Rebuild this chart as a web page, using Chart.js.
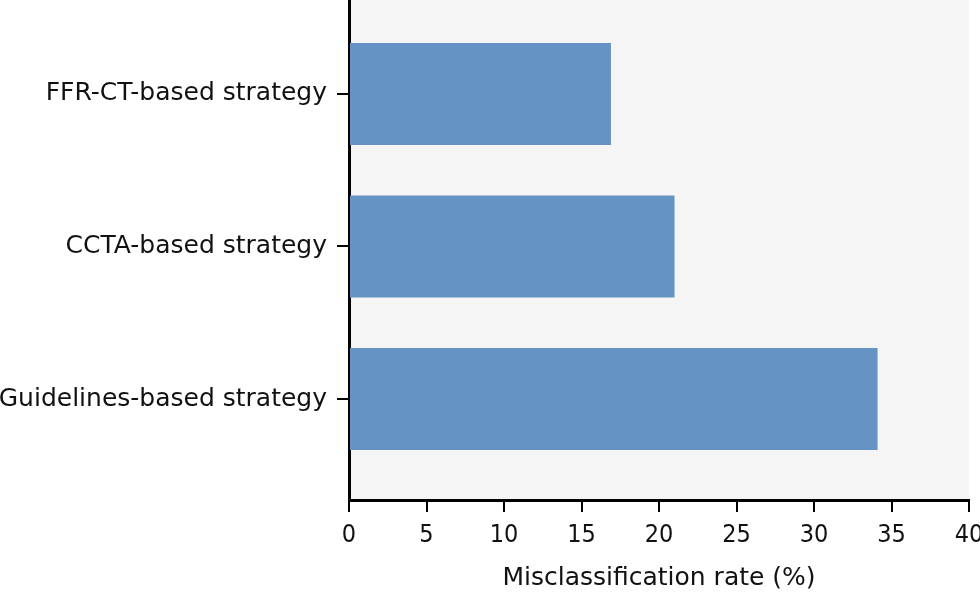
<!DOCTYPE html>
<html>
<head>
<meta charset="utf-8">
<script src="https://cdn.jsdelivr.net/npm/chart.js@4/dist/chart.umd.min.js"></script>
<style>
  html, body { margin: 0; padding: 0; background: #fff; }
  canvas { display: block; }
</style>
</head>
<body>
<canvas id="chart" width="980" height="595"></canvas>
<script>
// ── Data ──
const categories = ['FFR-CT-based strategy', 'CCTA-based strategy', 'Guidelines-based strategy'];
const misclassRate = [16.9, 21.0, 34.1];
const xTicks = [0, 5, 10, 15, 20, 25, 30, 35, 40];

// ── Plot area background ──
const plotBackground = {
  id: 'plotBackground',
  beforeDraw(chart) {
    const { ctx, chartArea: a } = chart;
    ctx.save();
    ctx.fillStyle = '#f5f5f5';
    ctx.fillRect(a.left, a.top, a.right - a.left, a.bottom - a.top);
    ctx.restore();
  }
};

Chart.defaults.font.family = "'DejaVu Sans', sans-serif";
Chart.defaults.color = '#111';

new Chart(document.getElementById('chart'), {
  type: 'bar',
  data: {
    datasets: [{
      data: misclassRate.map((v, i) => ({ x: v, y: i })),
      backgroundColor: '#6593c4',
      borderWidth: 0,
      barPercentage: 0.669,
      categoryPercentage: 1
    }]
  },
  options: {
    indexAxis: 'y',
    responsive: false,
    animation: false,
    layout: { padding: { left: 0, right: 11, top: 0, bottom: 0 } },
    plugins: { legend: { display: false }, tooltip: { enabled: false } },
    scales: {
      x: {
        type: 'linear',
        min: xTicks[0],
        max: xTicks[xTicks.length - 1],
        afterBuildTicks: s => { s.ticks = xTicks.map(v => ({ value: v })); },
        afterFit: s => { s.height = 95; s.paddingLeft = 0; s.paddingRight = 0; },
        ticks: {
          padding: 8,
          color: '#111',
          font: { family: "'Liberation Sans Narrow', 'DejaVu Sans Condensed', sans-serif", size: 25 }
        },
        grid: { drawOnChartArea: false, tickLength: 12, color: '#000', lineWidth: 2 },
        border: { color: '#000', width: 3 },
        title: {
          display: true,
          text: 'Misclassification rate (%)',
          color: '#111',
          font: { size: 25 },
          padding: { top: 0, bottom: 2 }
        }
      },
      y: {
        type: 'linear',
        reverse: true,
        offset: false,
        min: -0.616,
        max: 2.662,
        afterBuildTicks: s => { s.ticks = categories.map((c, i) => ({ value: i })); },
        afterFit: s => { s.width = 349; s.paddingTop = 0; s.paddingBottom = 0; },
        ticks: {
          padding: 10,
          color: '#111',
          font: { size: 25 },
          callback: v => categories[v]
        },
        grid: { offset: false, drawOnChartArea: false, tickLength: 12, color: '#000', lineWidth: 2 },
        border: { color: '#000', width: 3 }
      }
    }
  },
  plugins: [plotBackground]
});
</script>
</body>
</html>
